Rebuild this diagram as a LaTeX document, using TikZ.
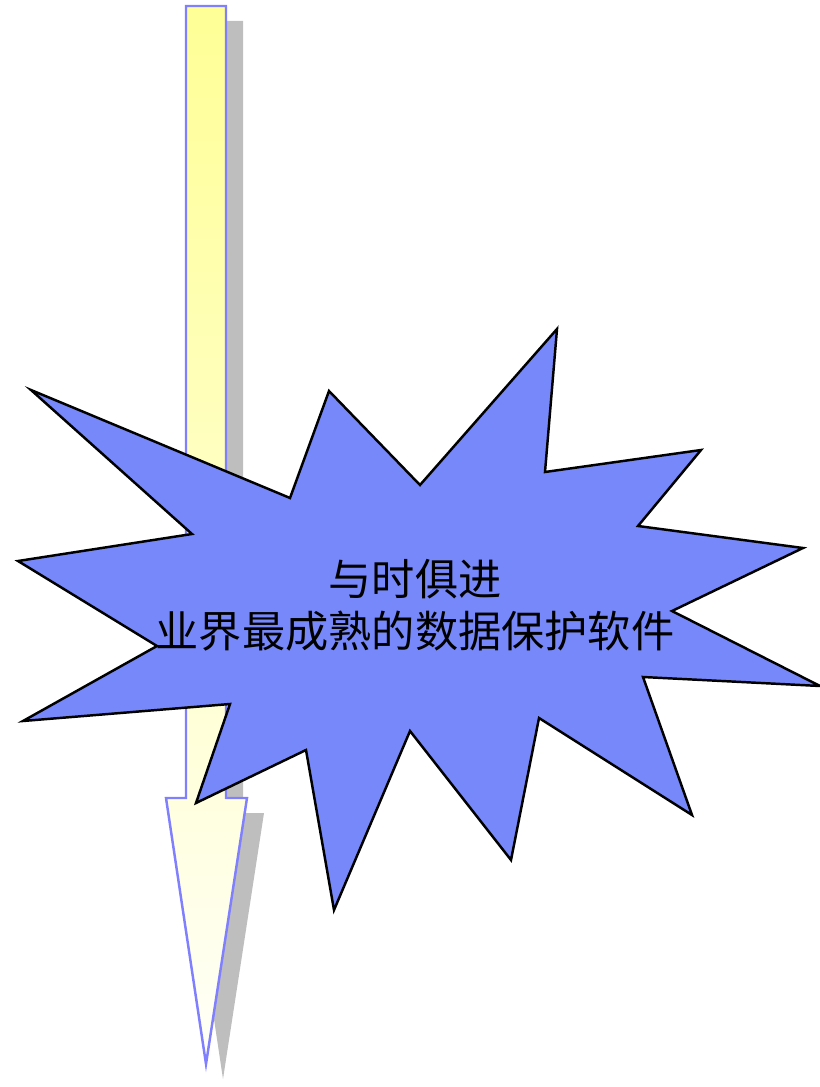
\documentclass[tikz,border=0pt]{standalone}
\usepackage{fontspec}
\newfontfamily\cjk{Noto Sans CJK SC}
\definecolor{arrowline}{RGB}{128,128,255}
\definecolor{arrowtop}{RGB}{255,255,150}
\definecolor{arrowbottom}{RGB}{255,255,248}
\definecolor{shadowgray}{RGB}{190,190,190}
\definecolor{starblue}{RGB}{119,136,250}

\begin{document}
\begin{tikzpicture}[x=0.02cm,y=-0.02cm]
  \useasboundingbox (0,0) rectangle (820,1087);
  % shadow of the arrow
  \fill[shadowgray] (203,21) -- (243,21) -- (243,813) -- (264,813) -- (223,1079) -- (183,813) -- (203,813) -- cycle;
  % the arrow
  \shade[top color=arrowtop, bottom color=arrowbottom] (186,6) -- (226,6) -- (226,798) -- (247,798) -- (206,1064) -- (166,798) -- (186,798) -- cycle;
  \draw[arrowline, line width=1.4pt, line join=miter] (186,6) -- (226,6) -- (226,798) -- (247,798) -- (206,1064) -- (166,798) -- (186,798) -- cycle;
  % the star
  \filldraw[fill=starblue, draw=black, line width=1.4pt, line join=miter]
    (31,390) -- (290,498) -- (329,391) -- (420,485) -- (557,329) -- (545,472)
    -- (701,450) -- (638,526) -- (803,548) -- (672,611) -- (820,686) -- (643,677)
    -- (692,815) -- (539,718) -- (511,860) -- (410,731) -- (334,910) -- (306,750)
    -- (196,803) -- (230,704) -- (23,721) -- (157,646) -- (18,561) -- (192,534) -- cycle;
  \node[align=center, font=\cjk\fontsize{24.6}{29.6}\selectfont] (slogan) at (415,605) {与时俱进\\业界最成熟的数据保护软件};
\end{tikzpicture}
\end{document}
